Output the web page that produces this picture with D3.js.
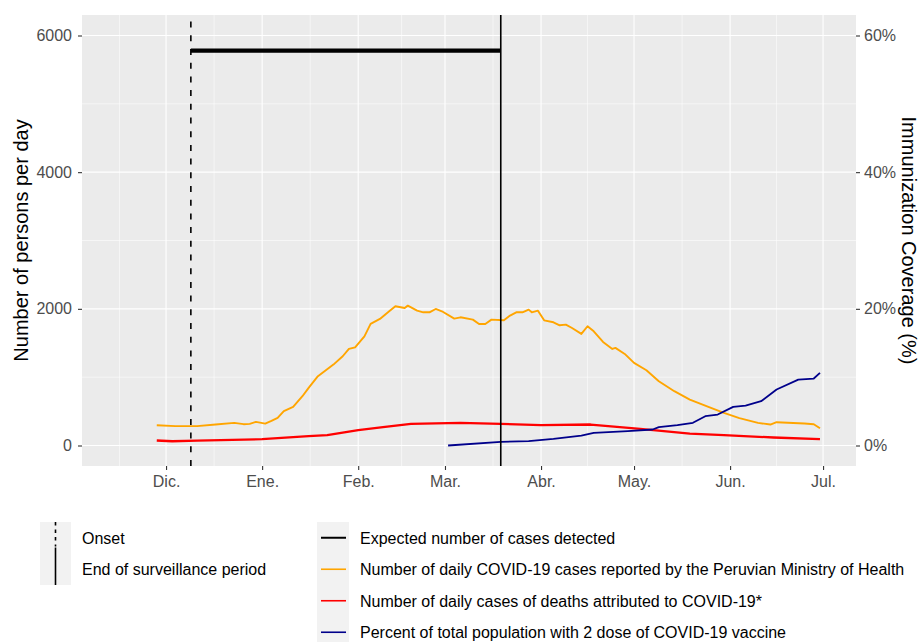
<!DOCTYPE html>
<html lang="en">
<head>
<meta charset="UTF-8">
<title>COVID-19 cases, deaths and vaccination - Peru</title>
<script src="https://d3js.org/d3.v7.min.js"></script>
<style>
  body { margin: 0; background: #fff; }
  svg { display: block; font-family: "Liberation Sans", Arial, sans-serif; }
  .grid-major { stroke: #fff; stroke-width: 1.1; }
  .grid-minor { stroke: #fff; stroke-width: 0.55; }
  .axis text { fill: #4d4d4d; font-size: 16px; font-family: "Liberation Sans", Arial, sans-serif; }
  .axis line { stroke: #333; stroke-width: 1.1; }
  .axis-title { fill: #000; font-size: 20px; }
  .legend-text { fill: #000; font-size: 16px; }
</style>
</head>
<body>
<svg width="919" height="642"></svg>
<script>
// daily cases reported by MINSA (7-day smoothed)
const caseDates = ["2020-11-28","2020-12-04","2020-12-11","2020-12-17","2020-12-23","2020-12-26","2020-12-28","2020-12-30",
  "2021-01-02","2021-01-04","2021-01-06","2021-01-08","2021-01-11","2021-01-14","2021-01-16","2021-01-19","2021-01-24",
  "2021-01-27","2021-01-29","2021-01-31","2021-02-03","2021-02-05","2021-02-08","2021-02-11","2021-02-13","2021-02-16",
  "2021-02-17","2021-02-20","2021-02-22","2021-02-24","2021-02-26","2021-02-28","2021-03-04","2021-03-06","2021-03-10",
  "2021-03-12","2021-03-14","2021-03-16","2021-03-20","2021-03-22","2021-03-24","2021-03-26","2021-03-28","2021-03-29",
  "2021-03-31","2021-04-02","2021-04-05","2021-04-07","2021-04-09","2021-04-11","2021-04-14","2021-04-16","2021-04-18",
  "2021-04-21","2021-04-24","2021-04-25","2021-04-28","2021-05-01","2021-05-05","2021-05-09","2021-05-14","2021-05-19",
  "2021-05-25","2021-05-30","2021-06-04","2021-06-10","2021-06-14","2021-06-16","2021-06-25","2021-06-28","2021-06-30"];
const caseValues = [297,283,283,307,331,312,317,346,
  321,360,404,502,565,721,843,1014,1184,
  1306,1413,1437,1598,1779,1852,1964,2037,2013,
  2047,1974,1949,1949,1998,1964,1857,1876,1842,
  1779,1779,1842,1832,1901,1949,1949,1988,1949,
  1973,1832,1803,1759,1769,1720,1633,1745,1671,
  1516,1413,1428,1340,1209,1101,941,795,672,
  565,477,400,331,307,341,322,312,253];

// daily deaths attributed to COVID-19
const deathDates = ["2020-11-28","2020-12-03","2020-12-11","2021-01-01","2021-01-16","2021-01-22","2021-02-01","2021-02-09",
  "2021-02-18","2021-03-06","2021-03-19","2021-04-01","2021-04-17","2021-05-03","2021-05-19","2021-05-30","2021-06-15","2021-06-30"];
const deathValues = [73,62,70,93,137,151,224,268,316,331,317,297,307,244,175,151,117,93];

// percent of population with 2 doses (right axis)
const vaccDates = ["2021-03-02","2021-03-19","2021-03-28","2021-04-05","2021-04-14","2021-04-18","2021-04-29","2021-05-07",
  "2021-05-09","2021-05-15","2021-05-20","2021-05-24","2021-05-28","2021-06-02","2021-06-06","2021-06-11","2021-06-16",
  "2021-06-23","2021-06-28","2021-06-30"];
const vaccPercent = [0,0.54,0.63,0.97,1.46,1.85,2.09,2.34,2.68,2.97,3.32,4.29,4.53,5.66,5.85,6.48,8.19,9.65,9.8,10.63];

const onsetDate = "2020-12-09";
const endDate = "2021-03-19";
const expectedCases = 5780;

const monthTicks = ["2020-12-01","2021-01-01","2021-02-01","2021-03-01","2021-04-01","2021-05-01","2021-06-01","2021-07-01"];
const monthLabels = ["Dic.","Ene.","Feb.","Mar.","Abr.","May.","Jun.","Jul."];
const leftTicks = [0, 2000, 4000, 6000];
const rightTicks = [0, 20, 40, 60];
const rightLabels = ["0%","20%","40%","60%"];

const markerLabels = ["Onset", "End of surveillance period"];
const seriesLabels = ["Expected number of cases detected",
  "Number of daily COVID-19 cases reported by the Peruvian Ministry of Health",
  "Number of daily cases of deaths attributed to COVID-19*",
  "Percent of total population with 2 dose of COVID-19 vaccine"];
const seriesColors = ["#000000", "#FFA500", "#FF0000", "#00008B"];

const parse = d3.timeParse("%Y-%m-%d");
const svg = d3.select("svg");

const panel = {left: 82, right: 856, top: 15, bottom: 466};

const x = d3.scaleTime()
  .domain([new Date(2020, 10, 3, 21), new Date(2021, 6, 11, 15)])
  .range([panel.left, panel.right]);
const y = d3.scaleLinear().domain([-300, 6300]).range([panel.bottom, panel.top]);
const y2 = d3.scaleLinear().domain([-3, 63]).range([panel.bottom, panel.top]);

// panel background
svg.append("rect")
  .attr("x", panel.left).attr("y", panel.top)
  .attr("width", panel.right - panel.left).attr("height", panel.bottom - panel.top)
  .attr("fill", "#EBEBEB");

// grid
const months = d3.timeMonth.range(new Date(2020, 10, 1), new Date(2021, 7, 2));
const minorX = d3.pairs(months).map(([a, b]) => new Date((+a + +b) / 2))
  .filter(d => d >= x.domain()[0] && d <= x.domain()[1]);
const majorX = monthTicks.map(parse);
const minorY = [1000, 3000, 5000];

const grid = svg.append("g");
grid.selectAll(".gx-minor").data(minorX).join("line").attr("class", "grid-minor")
  .attr("x1", d => x(d)).attr("x2", d => x(d)).attr("y1", panel.top).attr("y2", panel.bottom);
grid.selectAll(".gy-minor").data(minorY).join("line").attr("class", "grid-minor")
  .attr("y1", d => y(d)).attr("y2", d => y(d)).attr("x1", panel.left).attr("x2", panel.right);
grid.selectAll(".gx-major").data(majorX).join("line").attr("class", "grid-major")
  .attr("x1", d => x(d)).attr("x2", d => x(d)).attr("y1", panel.top).attr("y2", panel.bottom);
grid.selectAll(".gy-major").data(leftTicks).join("line").attr("class", "grid-major")
  .attr("y1", d => y(d)).attr("y2", d => y(d)).attr("x1", panel.left).attr("x2", panel.right);

// series
const zipSeries = (dates, vals) => dates.map((d, i) => ({date: parse(d), v: vals[i]}));
const lineL = d3.line().x(d => x(d.date)).y(d => y(d.v));
const lineR = d3.line().x(d => x(d.date)).y(d => y2(d.v));

svg.append("path").datum(zipSeries(caseDates, caseValues))
  .attr("d", lineL).attr("fill", "none").attr("stroke", seriesColors[1])
  .attr("stroke-width", 1.9).attr("stroke-linejoin", "round");
svg.append("path").datum(zipSeries(deathDates, deathValues))
  .attr("d", lineL).attr("fill", "none").attr("stroke", seriesColors[2])
  .attr("stroke-width", 2.3).attr("stroke-linejoin", "round");
svg.append("path").datum(zipSeries(vaccDates, vaccPercent))
  .attr("d", lineR).attr("fill", "none").attr("stroke", seriesColors[3])
  .attr("stroke-width", 1.8).attr("stroke-linejoin", "round");

// onset (dashed), drawn bottom-up like ggplot
svg.append("line")
  .attr("x1", x(parse(onsetDate))).attr("x2", x(parse(onsetDate)))
  .attr("y1", panel.bottom).attr("y2", panel.top)
  .attr("stroke", "#000").attr("stroke-width", 1.6).attr("stroke-dasharray", "6,7.7");

// expected cases segment
svg.append("line")
  .attr("x1", x(parse(onsetDate))).attr("x2", x(parse(endDate)))
  .attr("y1", y(expectedCases)).attr("y2", y(expectedCases))
  .attr("stroke", "#000").attr("stroke-width", 4.3);

// end of surveillance
svg.append("line")
  .attr("x1", x(parse(endDate))).attr("x2", x(parse(endDate)))
  .attr("y1", panel.bottom).attr("y2", panel.top)
  .attr("stroke", "#000").attr("stroke-width", 1.6);

// axes
const styleAxis = g => { g.attr("class", "axis"); g.select(".domain").remove(); };

svg.append("g").attr("transform", `translate(${panel.left},0)`)
  .call(d3.axisLeft(y).tickValues(leftTicks).tickSize(4).tickPadding(6).tickFormat(d3.format("d")))
  .call(styleAxis);

svg.append("g").attr("transform", `translate(${panel.right},0)`)
  .call(d3.axisRight(y2).tickValues(rightTicks).tickSize(4).tickPadding(4).tickFormat((d, i) => rightLabels[i]))
  .call(styleAxis);

svg.append("g").attr("transform", `translate(0,${panel.bottom})`)
  .call(d3.axisBottom(x).tickValues(majorX).tickSize(4).tickPadding(6).tickFormat((d, i) => monthLabels[i]))
  .call(styleAxis);

const midY = (panel.top + panel.bottom) / 2;
svg.append("text").attr("class", "axis-title")
  .attr("transform", `translate(28,${midY}) rotate(-90)`)
  .attr("text-anchor", "middle")
  .text("Number of persons per day");
svg.append("text").attr("class", "axis-title")
  .attr("transform", `translate(902,${midY}) rotate(90)`)
  .attr("text-anchor", "middle")
  .text("Immunization Coverage (%)");

// legends
const keyH = 31.5, legTop = 522;

const legA = svg.append("g").attr("transform", `translate(40,${legTop})`);
legA.append("rect").attr("width", 31).attr("height", keyH * markerLabels.length).attr("fill", "#F2F2F2");
legA.append("line").attr("x1", 15.5).attr("x2", 15.5).attr("y1", 0).attr("y2", keyH - 7)
  .attr("stroke", "#000").attr("stroke-width", 1.6).attr("stroke-dasharray", "3.5,4");
legA.append("line").attr("x1", 15.5).attr("x2", 15.5).attr("y1", keyH - 6).attr("y2", keyH * 2)
  .attr("stroke", "#000").attr("stroke-width", 1.6);
legA.selectAll("text").data(markerLabels).join("text").attr("class", "legend-text")
  .attr("x", 42).attr("y", (d, i) => keyH * i + keyH / 2).attr("dy", "0.36em")
  .text(d => d);

const legB = svg.append("g").attr("transform", `translate(317,${legTop})`);
legB.append("rect").attr("width", 32).attr("height", keyH * seriesLabels.length).attr("fill", "#F2F2F2");
legB.selectAll("line").data(seriesLabels).join("line")
  .attr("x1", 4).attr("x2", 29)
  .attr("y1", (d, i) => keyH * i + keyH / 2).attr("y2", (d, i) => keyH * i + keyH / 2)
  .attr("stroke", (d, i) => seriesColors[i]).attr("stroke-width", (d, i) => i === 0 ? 2 : 1.6);
legB.selectAll("text").data(seriesLabels).join("text").attr("class", "legend-text")
  .attr("x", 43).attr("y", (d, i) => keyH * i + keyH / 2).attr("dy", "0.36em")
  .text(d => d);
</script>
</body>
</html>
